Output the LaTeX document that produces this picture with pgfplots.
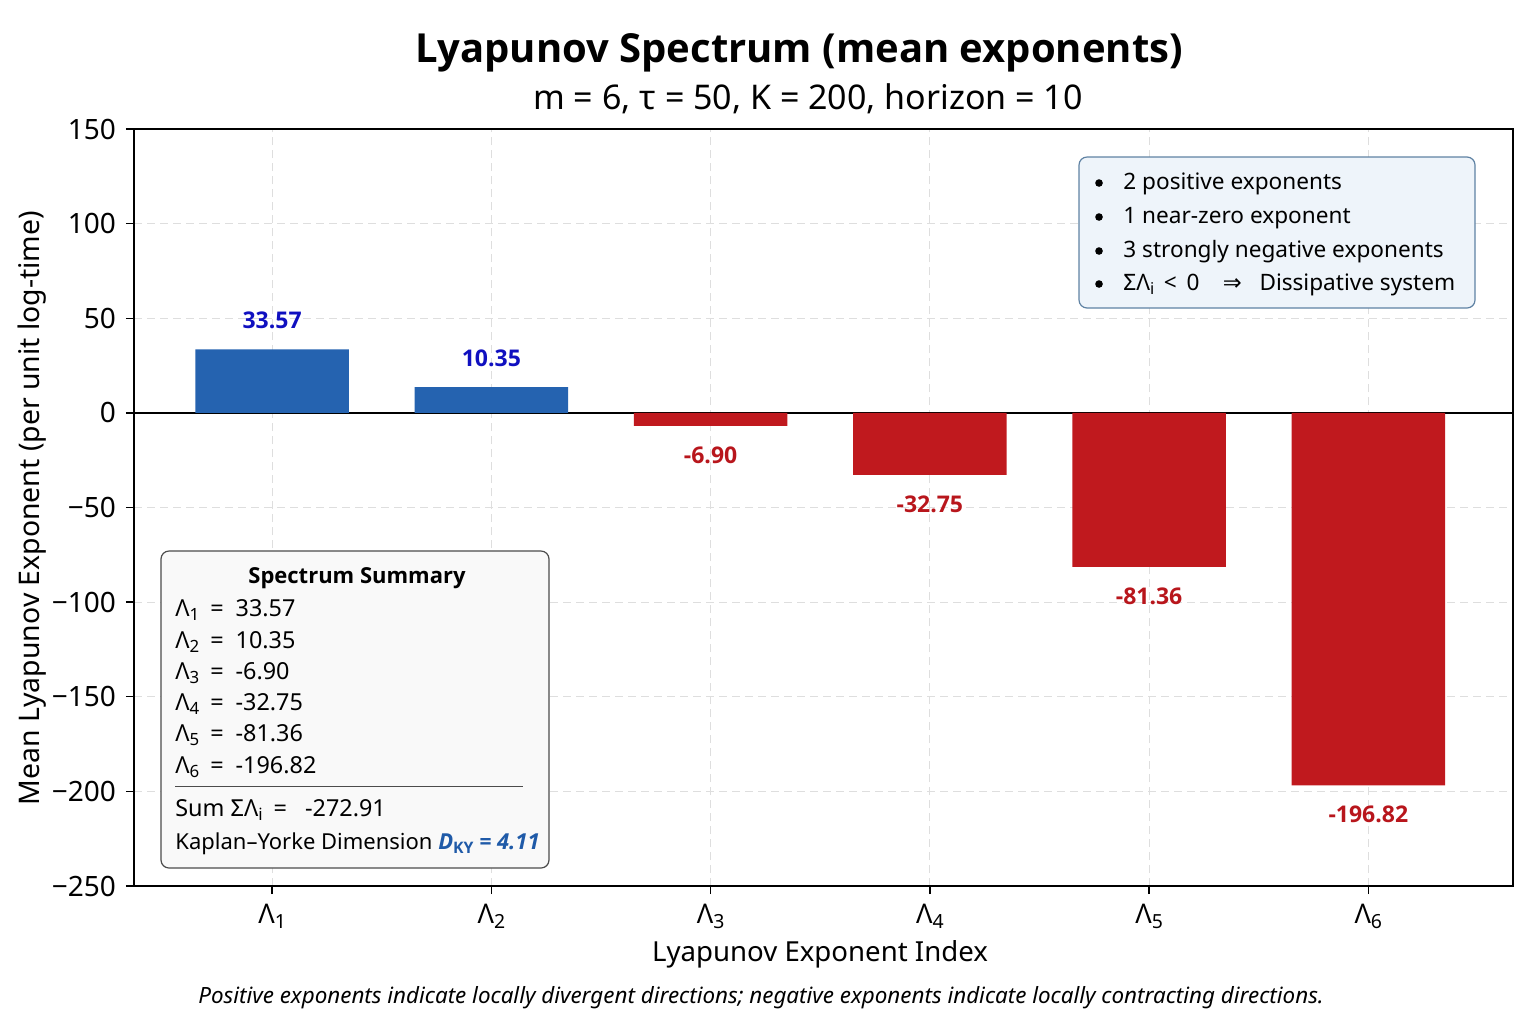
\documentclass[border=0pt]{standalone}
\usepackage{pgfplots}
\pgfplotsset{compat=1.18}
\usepackage{fontspec}
\setmainfont{Noto Sans}
\newfontfamily\dejavu{DejaVu Sans}
\newfontfamily\bfam{Open Sans}
\definecolor{barblue}{HTML}{2563B0}
\definecolor{barred}{HTML}{C0191E}
\definecolor{lblblue}{HTML}{1010C0}
\definecolor{lblred}{HTML}{B8161C}
\definecolor{dky}{HTML}{1F5AA8}
\definecolor{gridc}{HTML}{DEDEDE}
\definecolor{boxfill}{HTML}{EEF4FA}
\definecolor{boxdraw}{HTML}{5F82A3}
\newcommand\sub[1]{\raisebox{-0.35ex}{\scalebox{0.72}{#1}}}
\newcommand\fs[1]{\fontsize{#1}{#1}\selectfont}
\newcommand\eq{\hspace{5.5pt}=\hspace{6pt}}
\begin{document}
\begin{tikzpicture}
\path[use as bounding box] (0,0) rectangle (768pt,-512pt);
\begin{axis}[
  at={(67pt,-443pt)}, anchor=south west,
  scale only axis, width=689.5pt, height=378.5pt,
  xmin=-0.63, xmax=5.66, ymin=-250, ymax=150,
  xtick={0,1,2,3,4,5},
  xticklabels={Λ\sub{1},Λ\sub{2},Λ\sub{3},Λ\sub{4},Λ\sub{5},Λ\sub{6}},
  ytick={-250,-200,-150,-100,-50,0,50,100,150},
  yticklabels={−250,−200,−150,−100,−50,0,50,100,150},
  tick pos=left, tick align=outside, major tick length=4pt,
  tick style={black, line width=0.7pt},
  axis line style={black, line width=0.8pt},
  grid=major,
  major grid style={gridc, dash pattern=on 4pt off 2.5pt, line width=0.5pt},
  yticklabel style={font=\fs{14}, xshift=-1.5pt},
  xticklabel style={font=\fs{13.5}, yshift=-1.5pt},
]
\addplot[black, line width=0.8pt, forget plot] coordinates {(-0.63,0) (5.66,0)};
\addplot[ybar, bar width=0.7, bar shift=0pt, fill=barblue, draw=none,
  nodes near coords, point meta=explicit symbolic,
  every node near coord/.append style={lblblue, font=\bfam\bfseries\fs{11.5}, anchor=center, yshift=14.5pt}]
  table[meta=lbl] {
x y lbl
0 33.57 33.57
1 13.6 10.35
};
\addplot[ybar, bar width=0.7, bar shift=0pt, fill=barred, draw=none,
  nodes near coords, point meta=explicit symbolic,
  every node near coord/.append style={lblred, font=\bfam\bfseries\fs{11.5}, anchor=center, yshift=-14.5pt}]
  table[meta=lbl] {
x y lbl
2 -6.90 -6.90
3 -32.75 -32.75
4 -81.36 -81.36
5 -196.82 -196.82
};
\end{axis}
\begin{scope}[x=0.5pt,y=-0.5pt]
% titles
\node[font=\bfam\bfseries\fs{20}] at (799,53) {Lyapunov Spectrum (mean exponents)};
\node[font=\fs{17}] at (808,99) {m = 6, τ = 50, K = 200, horizon = 10};
\node[font=\fs{14.2}, rotate=90] at (32,508) {Mean Lyapunov Exponent (per unit log-time)};
\node[font=\fs{13.8}] at (820,954) {Lyapunov Exponent Index};
\node[font=\itshape\fs{11.2}] at (761,998) {Positive exponents indicate locally divergent directions; negative exponents indicate locally contracting directions.};
% upper right box
\draw[fill=boxfill, draw=boxdraw, line width=0.6pt, rounded corners=4pt] (1079,157) rectangle (1475,308);
\foreach \yy/\tt in {182/{2 positive exponents},216/{1 near-zero exponent},250/{3 strongly negative exponents}}{
  \fill (1099,\yy+1) circle (3.8);
  \node[font=\fs{11.3}, anchor=west, inner sep=0pt] at (1123,\yy+2) {\tt};
}
\fill (1099,284) circle (3.8);
\node[font=\fs{11.3}, anchor=west, inner sep=0pt] at (1123,285) {ΣΛ\sub{i} \,<\, 0 \ \ \ {\dejavu ⇒}\ \ \ Dissipative system};
% lower left box
\draw[fill=white!97.5!black, draw=black!70, line width=0.6pt, rounded corners=4pt] (161,551) rectangle (549,868);
\node[font=\bfam\bfseries\fs{11}] at (357,578) {Spectrum Summary};
\foreach \yy/\tt in {608/{Λ\sub{1}\eq 33.57},640/{Λ\sub{2}\eq 10.35},671/{Λ\sub{3}\eq -6.90},702/{Λ\sub{4}\eq -32.75},733/{Λ\sub{5}\eq -81.36},765/{Λ\sub{6}\eq -196.82}}{
  \node[font=\fs{11.7}, anchor=west, inner sep=0pt] at (175,\yy+2) {\tt};
}
\draw[black!70, line width=0.5pt] (175,786) -- (523,786);
\node[font=\fs{11.7}, anchor=west, inner sep=0pt] at (175,810) {Sum ΣΛ\sub{i}\eq\ -272.91};
\node[font=\fs{11}, anchor=west, inner sep=0pt] at (175,844) {Kaplan–Yorke Dimension {\color{dky}\bfam\bfseries\itshape D\sub{\upshape KY} = 4.11}};
\end{scope}
\end{tikzpicture}
\end{document}
